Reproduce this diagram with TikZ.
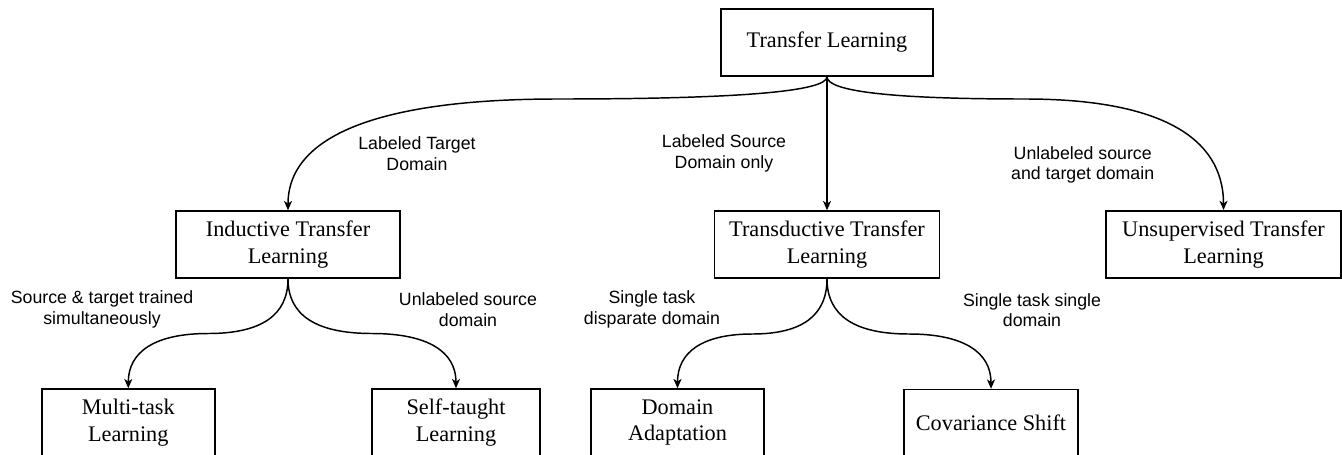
\documentclass[tikz,border=0pt]{standalone}
\usepackage{fontspec}
\setmainfont{Liberation Serif}
\setsansfont{Liberation Sans}
\usetikzlibrary{arrows.meta,calc}
\newcommand\curvedge[4]{%
  \coordinate (#4l) at (0,#3);
  \coordinate (#4p) at (#1.south |- #4l);
  \coordinate (#4q) at (#2.north |- #4l);
  \coordinate (#4m) at ($(#4p)!0.5!(#4q)$);
  \draw[conn] (#1.south) .. controls ($(#1.south)!2/3!(#4p)$) and ($(#4m)!2/3!(#4p)$) .. (#4m)
     .. controls ($(#4m)!2/3!(#4q)$) and ($(#2.north)!2/3!(#4q)$) .. (#2.north);
}
\begin{document}
\begin{tikzpicture}[x=0.75pt,y=-0.75pt,
  box/.style={draw, line width=1.1pt, minimum height=50.25pt, inner sep=0pt, align=center,
    font=\fontsize{16.7}{20}\selectfont},
  lbl/.style={align=center, inner sep=0pt, font=\sffamily\fontsize{13.3}{15.5}\selectfont},
  conn/.style={line width=1.1pt, -{Stealth[length=7pt,width=6pt,inset=2pt]}}]
\useasboundingbox (0,0) rectangle (1342,454);
\node[box, minimum width=159pt] (tl) at (827,42.5) {Transfer Learning};
\node[box, minimum width=168pt] (ind) at (288,244.5) {Inductive Transfer\\Learning};
\node[box, minimum width=168.75pt] (tra) at (827,244.5) {Transductive Transfer\\Learning};
\node[box, minimum width=176.25pt] (uns) at (1223.5,244.3) {Unsupervised Transfer\\Learning};
\node[box, minimum width=129.75pt] (mul) at (128.3,422.5) {Multi-task\\Learning};
\node[box, minimum width=126pt] (sel) at (456,422.5) {Self-taught\\Learning};
\node[box, minimum width=129.75pt] (dom) at (677.5,422.5) {Domain\\Adaptation};
\node[box, minimum width=130.5pt] (cov) at (991,423) {Covariance Shift};

\node[lbl] (l1) at (417,153.5) {Labeled Target\\Domain};
\node[lbl] (l2) at (724,153.5) {Labeled Source\\Domain only};
\node[lbl] (l3) at (1082.7,165) {Unlabeled source\\and target domain};
\node[lbl] (l4) at (102,309.5) {Source \& target trained\\simultaneously};
\node[lbl] (l5) at (468,309.5) {Unlabeled source\\domain};
\node[lbl] (l6) at (652,309.5) {Single task\\disparate domain};
\node[lbl] (l7) at (1032,310) {Single task single\\domain};

\curvedge{tl}{ind}{99}{ea}
\draw[conn] (tl.south) -- (tra.north);
\curvedge{tl}{uns}{99}{eb}
\curvedge{ind}{mul}{333.5}{ec}
\curvedge{ind}{sel}{333.5}{ed}
\curvedge{tra}{dom}{334}{ee}
\curvedge{tra}{cov}{334}{ef}
\end{tikzpicture}
\end{document}
